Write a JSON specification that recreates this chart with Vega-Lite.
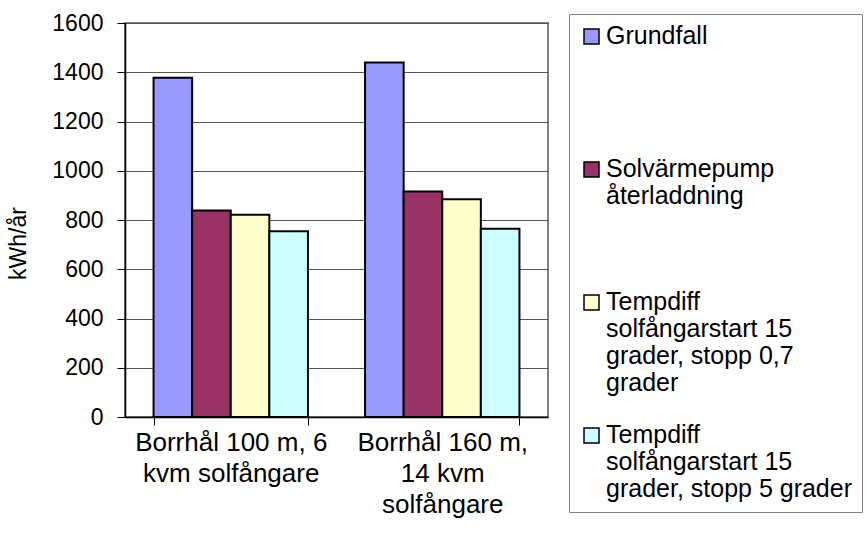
{
  "$schema": "https://vega.github.io/schema/vega-lite/v6.json",
  "autosize": "none",
  "padding": {"left": 125, "top": 23, "right": 320, "bottom": 116},
  "width": 423,
  "height": 394,
  "background": "white",
  "config": {
    "font": "Liberation Sans",
    "view": {"stroke": "#808080", "strokeWidth": 2}
  },
  "data": {
    "values": [
      {"case": "Borrhål 100 m, 6 kvm solfångare", "serie": "Grundfall", "kwh": 1378},
      {"case": "Borrhål 100 m, 6 kvm solfångare", "serie": "Solvärmepump återladdning", "kwh": 839},
      {"case": "Borrhål 100 m, 6 kvm solfångare", "serie": "Tempdiff solfångarstart 15 grader, stopp 0,7 grader", "kwh": 821},
      {"case": "Borrhål 100 m, 6 kvm solfångare", "serie": "Tempdiff solfångarstart 15 grader, stopp 5 grader", "kwh": 754},
      {"case": "Borrhål 160 m, 14 kvm solfångare", "serie": "Grundfall", "kwh": 1440},
      {"case": "Borrhål 160 m, 14 kvm solfångare", "serie": "Solvärmepump återladdning", "kwh": 916},
      {"case": "Borrhål 160 m, 14 kvm solfångare", "serie": "Tempdiff solfångarstart 15 grader, stopp 0,7 grader", "kwh": 884},
      {"case": "Borrhål 160 m, 14 kvm solfångare", "serie": "Tempdiff solfångarstart 15 grader, stopp 5 grader", "kwh": 764}
    ]
  },
  "mark": {"type": "bar", "stroke": "black", "strokeWidth": 2},
  "encoding": {
    "x": {
      "field": "case",
      "type": "nominal",
      "sort": null,
      "scale": {"paddingInner": 0.27, "paddingOuter": 0.135},
      "axis": {
        "title": null,
        "labelAngle": 0,
        "labelFontSize": 26,
        "labelColor": "black",
        "labelPadding": 4,
        "labelBaseline": "top",
        "labelLineHeight": 31,
        "labelLimit": 0,
        "labelExpr": "datum.value == 'Borrhål 100 m, 6 kvm solfångare' ? ['Borrhål 100 m, 6', 'kvm solfångare'] : datum.value == 'Borrhål 160 m, 14 kvm solfångare' ? ['Borrhål 160 m,', '14 kvm', 'solfångare'] : ''",
        "tickBand": "extent",
        "tickSize": 8,
        "tickColor": "black",
        "domainColor": "black",
        "domainWidth": 1.5
      }
    },
    "xOffset": {"field": "serie", "type": "nominal", "sort": null, "scale": {"paddingInner": 0, "paddingOuter": 0}},
    "y": {
      "field": "kwh",
      "type": "quantitative",
      "scale": {"domain": [0, 1600]},
      "axis": {
        "title": "kWh/år",
        "titleFontSize": 23,
        "titleFontWeight": "normal",
        "titleColor": "black",
        "titleX": -107,
        "titleY": 220,
        "titleAngle": -90,
        "titleAlign": "center",
        "titleBaseline": "middle",
        "values": [0, 200, 400, 600, 800, 1000, 1200, 1400, 1600],
        "format": "d",
        "labelFontSize": 23,
        "labelColor": "black",
        "labelPadding": 14,
        "tickSize": 8,
        "tickColor": "black",
        "domainColor": "black",
        "domainWidth": 1.5,
        "gridColor": "#555555",
        "gridWidth": 1
      }
    },
    "fill": {
      "field": "serie",
      "type": "nominal",
      "sort": null,
      "scale": {
        "domain": ["Grundfall", "Solvärmepump återladdning", "Tempdiff solfångarstart 15 grader, stopp 0,7 grader", "Tempdiff solfångarstart 15 grader, stopp 5 grader"],
        "range": ["#9999FF", "#993366", "#FFFFCC", "#CCFFFF"]
      },
      "legend": {
        "title": null,
        "orient": "none",
        "legendX": 444,
        "legendY": -9,
        "strokeColor": "#808080",
        "padding": 10,
        "symbolType": "square",
        "symbolSize": 225,
        "symbolStrokeColor": "black",
        "symbolStrokeWidth": 1.5,
        "labelFontSize": 25,
        "labelColor": "black",
        "labelLimit": 0,
        "labelOffset": 2,
        "labelBaseline": "top",
        "labelLineHeight": 26.5,
        "gridAlign": "all",
        "rowPadding": 26,
        "labelExpr": "datum.value == 'Grundfall' ? ['Grundfall'] : datum.value == 'Solvärmepump återladdning' ? ['Solvärmepump', 'återladdning'] : datum.value == 'Tempdiff solfångarstart 15 grader, stopp 0,7 grader' ? ['Tempdiff', 'solfångarstart 15', 'grader, stopp 0,7', 'grader'] : ['Tempdiff', 'solfångarstart 15', 'grader, stopp 5 grader']",
        "encode": {"labels": {"update": {"dy": {"value": -13}}}}
      }
    }
  }
}
